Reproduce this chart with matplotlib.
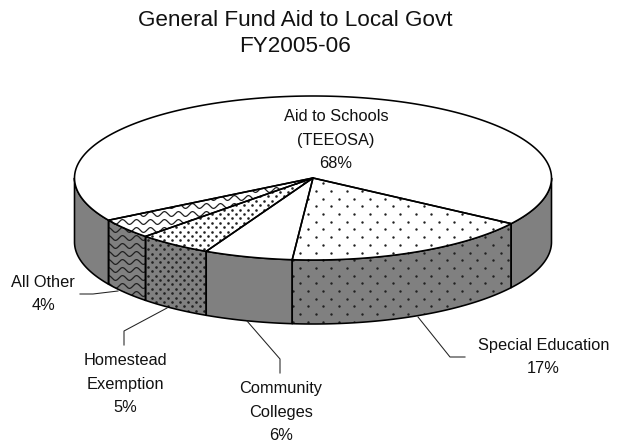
import numpy as np
import matplotlib
matplotlib.use("Agg")
import matplotlib.pyplot as plt
from matplotlib.patches import Polygon

plt.rcParams['font.family'] = ['Liberation Sans', 'DejaVu Sans']

# Budget shares, percent, clockwise from the right-hand edge of the special education slice
categories = ["Special Education", "Community Colleges", "Homestead Exemption", "All Other", "Aid to Schools (TEEOSA)"]
shares = [17, 6, 5, 4, 68]
label_lines = ["Special Education\n17%", "Community\nColleges\n6%", "Homestead\nExemption\n5%", "All Other\n4%", "Aid to Schools\n(TEEOSA)\n68%"]
start_angle = 33.8

# Pie geometry in figure pixels
CX, CY, RX, RY, DEPTH = 313.0, 178.0, 238.5, 82.0, 64.0
GREY = "#808080"

fig = plt.figure(figsize=(6.18, 4.45), dpi=100)
ax = fig.add_axes([0, 0, 1, 1])
ax.set_xlim(0, 618)
ax.set_ylim(445, 0)
ax.axis("off")


def rim(a0, a1, n=200):
    t = np.radians(np.linspace(a0, a1, n))
    return np.column_stack([CX + RX * np.cos(t), CY + RY * np.sin(t)])


def dots(patch, step, row, size, color="#202020"):
    xs = np.arange(0, 618, step)
    ys = np.arange(60, 340, row)
    pts = np.array([(x + (i % 2) * step / 2, y) for i, y in enumerate(ys) for x in xs])
    s = ax.scatter(pts[:, 0], pts[:, 1], s=size, c=color, lw=0, zorder=patch.get_zorder() + 0.1)
    s.set_clip_path(patch)


def waves(patch, lw=0.9):
    xs = np.arange(60, 320, 0.5)
    for y0 in np.arange(150, 300, 8.0):
        ys = y0 + 2.4 * np.sin(xs * 2 * np.pi / 14.0)
        l, = ax.plot(xs, ys, color="#202020", lw=lw, zorder=patch.get_zorder() + 0.1)
        l.set_clip_path(patch)


def face(pts, fc, z):
    p = Polygon(pts, closed=True, fc=fc, ec="none", zorder=z)
    ax.add_patch(p)
    return p


def outline(pts, z):
    ax.add_patch(Polygon(pts, closed=True, fc="none", ec="black", lw=1.15, zorder=z, joinstyle="round"))


def texture(patch, style):
    if style == "sparse":
        dots(patch, 15.4, 7.7, 3)
    elif style == "dense":
        dots(patch, 8.0, 4.4, 3.5)
    elif style == "wave":
        waves(patch)


edges = start_angle + np.concatenate([[0], np.cumsum(shares)]) * 3.6
styles = ["sparse", None, "dense", "wave", None]

for k, share in enumerate(shares):
    a0, a1 = edges[k], edges[k + 1]
    # Front wall only where the rim faces the viewer
    wall_a0, wall_a1 = max(a0, 0), min(a1, 180)
    spans = [(wall_a0, wall_a1)] if wall_a0 < wall_a1 else []
    if a1 > 360:
        spans.append((0, a1 - 360))
    for w0, w1 in spans:
        w = rim(w0, w1)
        wall = np.vstack([w, (w + [0, DEPTH])[::-1]])
        texture(face(wall, GREY, 2), styles[k])
        outline(wall, 3)
    top = np.vstack([[CX, CY], rim(a0, a1)])
    texture(face(top, "white", 4), styles[k])
    outline(top, 5)

TEXT = "#111111"
ax.text(295, 20, "General Fund Aid to Local Govt", ha="center", va="center", fontsize=16.2, color=TEXT, zorder=10)
ax.text(295, 47, "FY2005-06", ha="center", va="center", fontsize=16.2, color=TEXT, zorder=10)
positions = [(543.5, 357), (281, 412), (125, 384), (43, 294), (336, 140)]
for (x, y), text in zip(positions, label_lines):
    ax.text(x, y, text, ha="center", va="center", fontsize=11.8, linespacing=1.73, color=TEXT, zorder=10)

# Leader lines from the wall to each label
leaders = [
    [(418, 317), (450, 357), (465, 357)],
    [(247, 321), (280, 359), (280, 373)],
    [(167, 308), (124, 331), (124, 345)],
    [(118, 291), (93, 294), (80, 294)],
]
for path in leaders:
    xy = np.array(path)
    ax.plot(xy[:, 0], xy[:, 1], color="#222222", lw=0.75, zorder=6)

fig.savefig("out.png", dpi=100)
